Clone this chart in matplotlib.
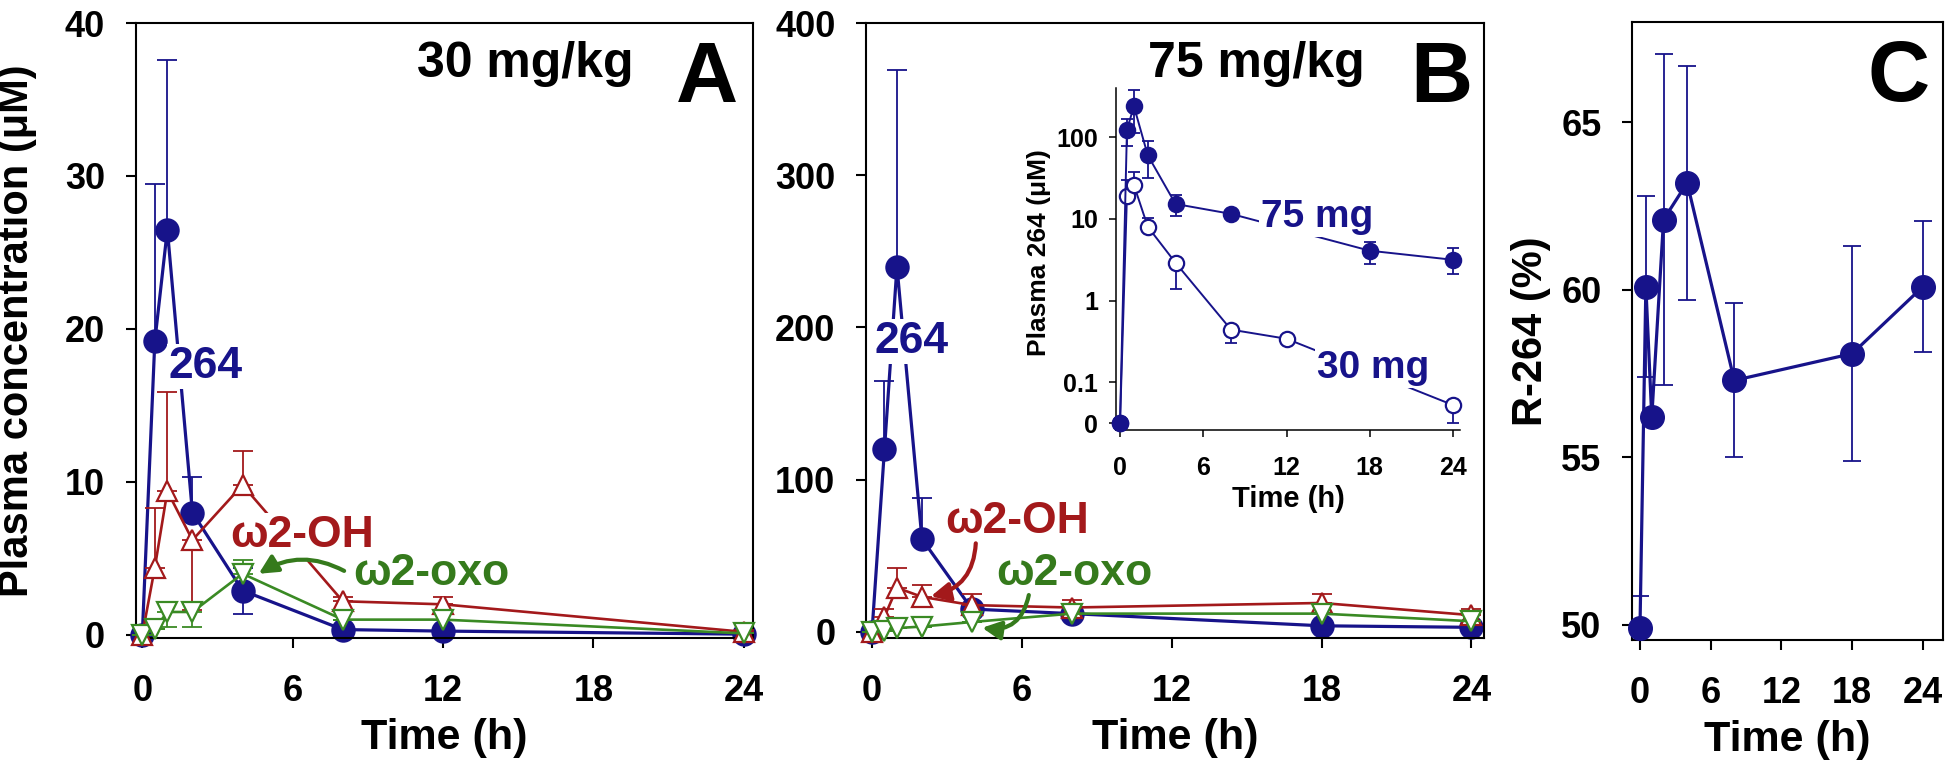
import matplotlib
matplotlib.use('Agg')
import matplotlib.pyplot as plt
from matplotlib.ticker import NullLocator

plt.rcParams['font.family'] = ['Liberation Sans', 'DejaVu Sans']
plt.rcParams['font.weight'] = 'bold'

BLUE = '#17138a'
RED = '#a3191b'
GREEN = '#3a8a24'
GREEN_TXT = '#357a1c'

# Panel A: 30 mg/kg (uM)
TIME_A = [0, 0.5, 1, 2, 4, 8, 12, 24]
P264_A = [0, 19.2, 26.5, 8.0, 2.9, 0.35, 0.25, 0.05]
P264_A_LO = [0, 0, 0, 0, 1.5, 0.1, 0, 0]
P264_A_HI = [0, 10.3, 11.1, 2.3, 1.5, 0.1, 0, 0]
OH_A = [0, 4.4, 9.4, 6.2, 9.8, 2.2, 2.0, 0.2]
OH_A_LO = [0, 0, 0, 4.6, 0, 0, 0, 0]
OH_A_HI = [0, 3.9, 6.5, 0, 2.2, 0.3, 0.5, 0.1]
OXO_A = [0, 0.4, 1.5, 1.5, 4.0, 1.0, 1.0, 0.1]
OXO_A_LO = [0, 0, 1.0, 1.0, 0, 0, 0, 0]
OXO_A_HI = [0, 0, 0, 0, 0.9, 0, 0, 0]

# Panel B: 75 mg/kg (uM)
TIME_B = [0, 0.5, 1, 2, 4, 8, 18, 24]
P264_B = [0, 120, 240, 61, 15, 12, 4, 3]
P264_B_HI = [0, 45, 129, 27, 0, 0, 0, 0]
OH_B = [0, 10, 29, 23, 17.6, 16, 19, 11]
OH_B_HI = [0, 5, 13, 8, 7, 5, 6, 4]
OXO_B = [0, 0.5, 2.5, 3.5, 6.5, 12, 12, 7]

# Inset: plasma 264, log scale
IN75 = [0, 122, 240, 60, 15.2, 11.5, 4.07, 3.15]
IN75_LO = [0, 44, 128, 28, 4.3, 0, 1.3, 1.05]
IN75_HI = [0, 44, 136, 29, 4.5, 0, 1.1, 1.25]
IN30 = [0, 19.1, 26, 8.0, 2.9, 0.44, 0.34, 0.044]
IN30_LO = [0, 0, 0, 0, 1.5, 0.14, 0, 0.044]
IN30_HI = [0, 10.9, 11.3, 2.3, 0, 0, 0, 0]

# Panel C: R-264 (%)
TIME_C = [0, 0.5, 1, 2, 4, 8, 18, 24]
R264 = [49.9, 60.1, 56.2, 62.1, 63.2, 57.3, 58.1, 60.1]
R264_ERR = [0.95, 2.7, 0, 4.95, 3.5, 2.3, 3.2, 1.95]

XTICKS = [0, 6, 12, 18, 24]


def draw_series(ax, t, y, lo, hi, color, marker, ms, mfc, lw, z, cap=7):
    ax.errorbar(t, y, yerr=[lo, hi], fmt='none', ecolor=color, elinewidth=1.3,
                capsize=cap, capthick=1.3, zorder=z, clip_on=False)
    ax.plot(t, y, color=color, lw=lw, marker=marker, ms=ms, mfc=mfc,
            mec=color, mew=1.6, zorder=z + 0.1, clip_on=False)


def style_axis(ax):
    for s in ax.spines.values():
        s.set_linewidth(1.5)
    ax.set_xticks(XTICKS)
    ax.tick_params(direction='out', length=7, width=1.5, labelsize=26)
    ax.xaxis.set_tick_params(pad=19)
    ax.yaxis.set_tick_params(pad=15)
    ax.set_xlabel('Time (h)', fontsize=31, fontweight='bold')
    ax.xaxis.set_label_coords(0.5, -0.13)


def label(ax, x, y, s, color, size=32, ha='center'):
    ax.text(x, y, s, transform=ax.transAxes, color=color, fontsize=size,
            fontweight='bold', ha=ha, va='baseline', zorder=5,
            bbox=dict(boxstyle='square,pad=0.05', fc='white', ec='none'))


fig = plt.figure(figsize=(19.5, 7.75), dpi=100)

# ---- Panel A
ax_a = fig.add_axes([0.0695, 0.1768, 0.3166, 0.7935])
draw_series(ax_a, TIME_A, P264_A, P264_A_LO, P264_A_HI, BLUE, 'o', 16, BLUE, 2.3, 2)
draw_series(ax_a, TIME_A, OH_A, OH_A_LO, OH_A_HI, RED, '^', 15, 'white', 1.9, 3)
draw_series(ax_a, TIME_A, OXO_A, OXO_A_LO, OXO_A_HI, GREEN, 'v', 15, 'white', 1.9, 4)
ax_a.set_xlim(-0.27, 24.36)
ax_a.set_ylim(-0.2, 40)
ax_a.set_yticks([0, 10, 20, 30, 40])
style_axis(ax_a)
ax_a.set_ylabel('Plasma concentration (\u03bcM)', fontsize=30, fontweight='bold')
ax_a.yaxis.set_label_coords(-0.16, 0.5)
label(ax_a, 0.114, 0.423, '264', BLUE)
label(ax_a, 0.270, 0.148, '\u03c92-OH', RED)
label(ax_a, 0.479, 0.086, '\u03c92-oxo', GREEN_TXT)
ax_a.annotate('', xy=(4.55, 3.9), xytext=(8.15, 4.1),
              arrowprops=dict(arrowstyle='-|>', color=GREEN_TXT, lw=3, mutation_scale=28,
                              connectionstyle='arc3,rad=0.3'), zorder=6)
ax_a.text(0.806, 0.912, '30 mg/kg', transform=ax_a.transAxes, fontsize=36,
          fontweight='bold', ha='right', va='baseline')
ax_a.text(0.976, 0.872, 'A', transform=ax_a.transAxes, fontsize=62,
          fontweight='bold', ha='right', va='baseline')

# ---- Panel B
ax_b = fig.add_axes([0.4441, 0.1768, 0.3169, 0.7935])
zero_b = [0] * len(TIME_B)
draw_series(ax_b, TIME_B, P264_B, zero_b, P264_B_HI, BLUE, 'o', 16, BLUE, 2.3, 2)
draw_series(ax_b, TIME_B, OH_B, zero_b, OH_B_HI, RED, '^', 15, 'white', 1.9, 3)
draw_series(ax_b, TIME_B, OXO_B, zero_b, zero_b, GREEN, 'v', 15, 'white', 1.9, 4)
ax_b.set_xlim(-0.24, 24.5)
ax_b.set_ylim(-4, 400)
ax_b.set_yticks([0, 100, 200, 300, 400])
style_axis(ax_b)
label(ax_b, 0.0744, 0.463, '264', BLUE)
label(ax_b, 0.244, 0.171, '\u03c92-OH', RED)
label(ax_b, 0.338, 0.086, '\u03c92-oxo', GREEN_TXT)
ax_b.annotate('', xy=(2.25, 23), xytext=(4.16, 60),
              arrowprops=dict(arrowstyle='-|>', color=RED, lw=3, mutation_scale=28,
                              connectionstyle='arc3,rad=-0.4'), zorder=6)
ax_b.annotate('', xy=(4.3, 3), xytext=(6.3, 26),
              arrowprops=dict(arrowstyle='-|>', color=GREEN_TXT, lw=3, mutation_scale=28,
                              connectionstyle='arc3,rad=-0.5'), zorder=6)
ax_b.text(0.456, 0.912, '75 mg/kg', transform=ax_b.transAxes, fontsize=36,
          fontweight='bold', ha='left', va='baseline')
ax_b.text(0.981, 0.872, 'B', transform=ax_b.transAxes, fontsize=62,
          fontweight='bold', ha='right', va='baseline')

# ---- Inset
ax_in = fig.add_axes([0.5723, 0.4452, 0.1764, 0.4413])
ax_in.set_facecolor('none')
draw_series(ax_in, TIME_A, IN30, IN30_LO, IN30_HI, BLUE, 'o', 11, 'white', 1.4, 2, cap=4)
draw_series(ax_in, TIME_B, IN75, IN75_LO, IN75_HI, BLUE, 'o', 11, BLUE, 1.4, 3, cap=4)
ax_in.set_yscale('symlog', linthresh=0.1, linscale=0.45)
ax_in.set_ylim(-0.017, 400)
ax_in.set_xlim(-0.29, 24.5)
ax_in.set_yticks([0, 0.1, 1, 10, 100])
ax_in.set_yticklabels(['0', '0.1', '1', '10', '100'])
ax_in.yaxis.set_minor_locator(NullLocator())
ax_in.set_xticks(XTICKS)
for side in ['top', 'right']:
    ax_in.spines[side].set_visible(False)
for side in ['left', 'bottom']:
    ax_in.spines[side].set_linewidth(1.1)
ax_in.tick_params(direction='out', length=5, width=1.1, labelsize=18)
ax_in.xaxis.set_tick_params(pad=14)
ax_in.yaxis.set_tick_params(pad=8)
ax_in.set_xlabel('Time (h)', fontsize=21, fontweight='bold')
ax_in.xaxis.set_label_coords(0.5, -0.16)
ax_in.set_ylabel('Plasma 264 (\u03bcM)', fontsize=19, fontweight='bold')
ax_in.yaxis.set_label_coords(-0.19, 0.52)
label(ax_in, 0.584, 0.594, '75 mg', BLUE, size=28)
label(ax_in, 0.747, 0.152, '30 mg', BLUE, size=28)

# ---- Panel C
ax_c = fig.add_axes([0.8369, 0.1742, 0.1595, 0.7974])
ax_c.errorbar(TIME_C, R264, yerr=R264_ERR, fmt='none', ecolor=BLUE, elinewidth=1.3,
              capsize=6.5, capthick=1.3, zorder=2)
ax_c.plot(TIME_C, R264, color=BLUE, lw=2.3, marker='o', ms=17, mfc=BLUE, mec=BLUE,
          zorder=3, clip_on=False)
ax_c.set_xlim(-0.68, 25.7)
ax_c.set_ylim(49.55, 68.0)
ax_c.set_yticks([50, 55, 60, 65])
style_axis(ax_c)
ax_c.set_ylabel('R-264 (%)', fontsize=30, fontweight='bold')
ax_c.yaxis.set_label_coords(-0.26, 0.5)
ax_c.text(0.958, 0.872, 'C', transform=ax_c.transAxes, fontsize=62,
          fontweight='bold', ha='right', va='baseline')

fig.savefig('out.png', dpi=100)
